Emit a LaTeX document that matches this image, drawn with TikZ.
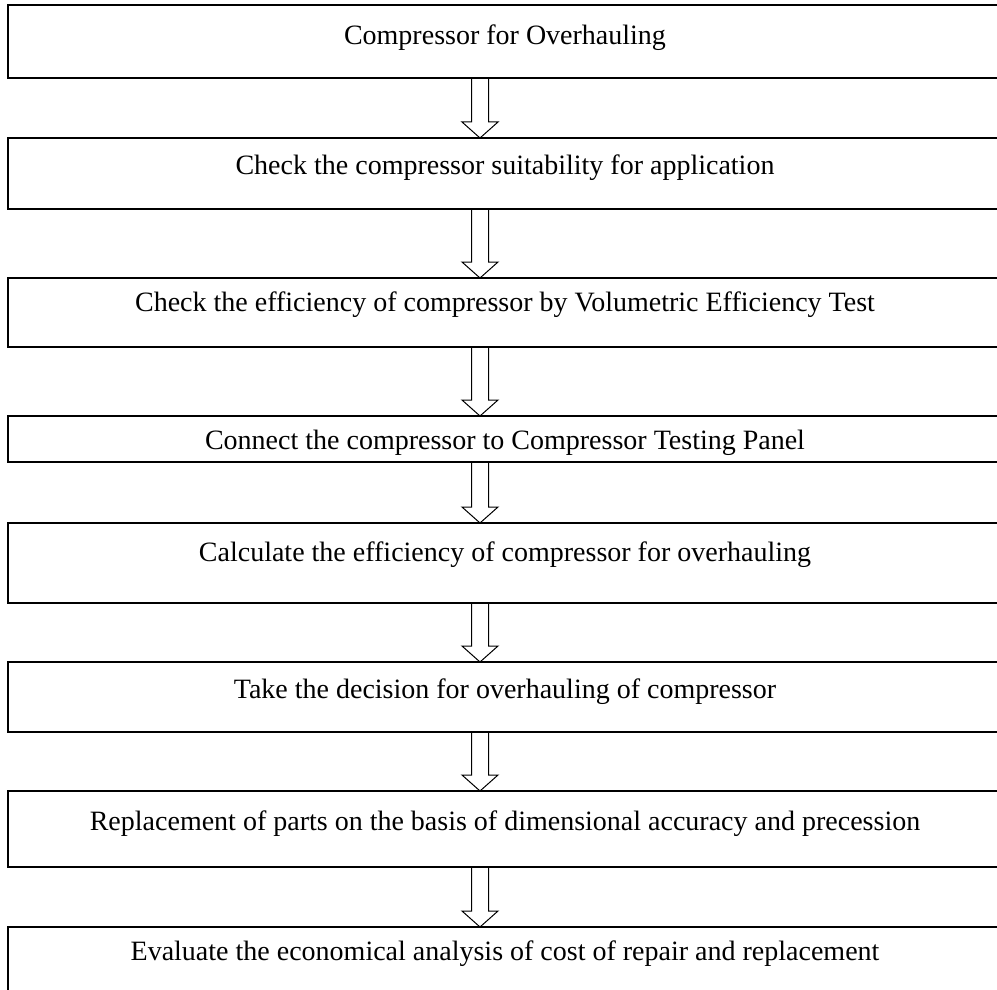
\documentclass[tikz,border=0pt]{standalone}
\usepackage{fontspec}
\setmainfont{Liberation Serif}
\usetikzlibrary{positioning}

\begin{document}
\begin{tikzpicture}[
    x=1pt, y=-1pt,
    node distance=60pt,
    every node/.style={font=\fontsize{28}{32}\selectfont},
    stage/.style={rectangle, draw=black, line width=1.3pt, minimum width=994pt, outer sep=0pt,
                  inner xsep=0pt, inner ysep=0pt, text height=36.5pt, align=center},
    blockarr/.style={draw=black, line width=1pt, line join=miter},
]
\useasboundingbox (0,0) rectangle (997,990);

% ── Stages, top to bottom ────────────────────────────────────
\node[stage, anchor=north, text height=40pt, text depth=33pt] (s1) at (505,5) {Compressor for Overhauling};
\node[stage, below=of s1, text depth=34.5pt]    (s2) {Check the compressor suitability for application};
\node[stage, below=69pt of s2, text height=33.5pt, text depth=35.5pt] (s3) {Check the efficiency of compressor by Volumetric Efficiency Test};
\node[stage, below=69pt of s3, text height=33pt, text depth=13pt] (s4) {Connect the compressor to Compressor Testing Panel};
\node[stage, below=61pt of s4, text height=38.5pt, text depth=41.5pt] (s5) {Calculate the efficiency of compressor for overhauling};
\node[stage, below=59pt of s5, text depth=33.5pt] (s6) {Take the decision for overhauling of compressor};
\node[stage, below=59pt of s6, text height=39.5pt, text depth=36.5pt] (s7) {Replacement of parts on the basis of dimensional accuracy and precession};
\node[stage, below=of s7, text height=33.5pt, text depth=43pt] (s8) {Evaluate the economical analysis of cost of repair and replacement};

% ── Hollow arrows between stages ─────────────────────────────
\coordinate (arrX) at (480,0);
\foreach \a/\b in {s1/s2, s2/s3, s3/s4, s4/s5, s5/s6, s6/s7, s7/s8} {
  \draw[blockarr]
    ([xshift=-8.5pt]arrX |- \a.south) -- ([xshift=-8.5pt, yshift=16pt]arrX |- \b.north)
    -- ([xshift=-18pt, yshift=16pt]arrX |- \b.north) -- (arrX |- \b.north)
    -- ([xshift=18pt, yshift=16pt]arrX |- \b.north) -- ([xshift=8.5pt, yshift=16pt]arrX |- \b.north)
    -- ([xshift=8.5pt]arrX |- \a.south);
}
\end{tikzpicture}
\end{document}
